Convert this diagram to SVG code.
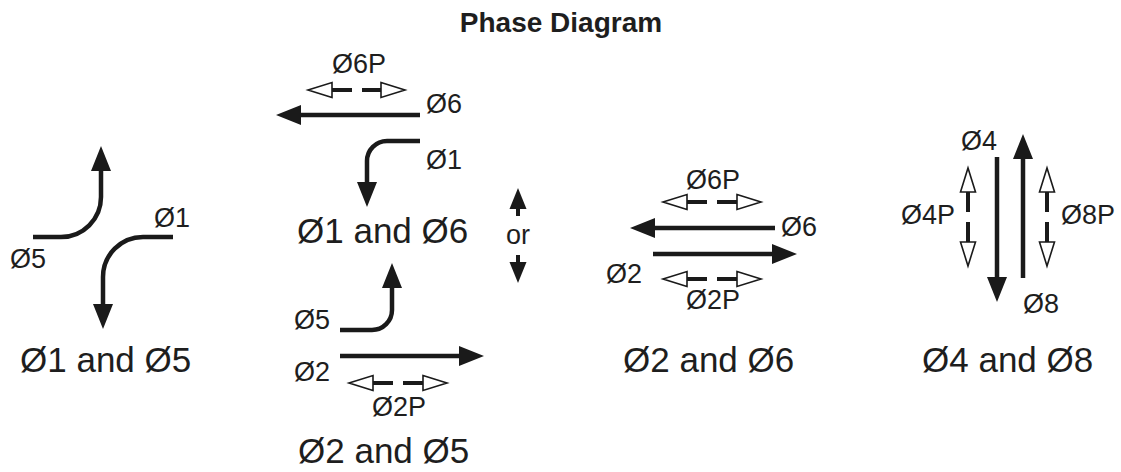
<svg xmlns="http://www.w3.org/2000/svg" width="1121" height="472" viewBox="0 0 1121 472">
<style>
text{font-family:"Liberation Sans",Arial,sans-serif;fill:#1e1e1e}
.t{font-size:28px;font-weight:bold}
.s{font-size:27px}
.b{font-size:35px}
.m{text-anchor:middle}
.ln{fill:none;stroke:#1a1a1a;stroke-width:4.5;marker-end:url(#ah)}
.dl{fill:none;stroke:#1a1a1a;stroke-width:4;stroke-dasharray:20 10;marker-start:url(#oh);marker-end:url(#oh)}
.sm{fill:none;stroke:#1a1a1a;stroke-width:4;marker-end:url(#as)}
</style>
<defs>
<marker id="ah" markerUnits="userSpaceOnUse" markerWidth="30" markerHeight="24" refX="1" refY="0" orient="auto" overflow="visible"><path d="M0,-10 L25,0 L0,10 z" fill="#1a1a1a"/></marker>
<marker id="as" markerUnits="userSpaceOnUse" markerWidth="24" markerHeight="20" refX="1" refY="0" orient="auto" overflow="visible"><path d="M0,-8.5 L21,0 L0,8.5 z" fill="#1a1a1a"/></marker>
<marker id="oh" markerUnits="userSpaceOnUse" markerWidth="30" markerHeight="20" refX="0" refY="0" orient="auto-start-reverse" overflow="visible"><path d="M0,-7.5 L24,0 L0,7.5 z" fill="#fff" stroke="#1a1a1a" stroke-width="1.6" stroke-linejoin="miter"/></marker>
</defs>
<text class="t m" x="561" y="32">Phase Diagram</text>
<g id="connectors">
<path class="ln" d="M33,237 H61 A40,40 0 0 0 101,197 V170"/>
<path class="ln" d="M173,237 H143 A40,40 0 0 0 103,277 V305"/>
<path class="dl" d="M332,90 H381"/>
<path class="ln" d="M420,115 H300"/>
<path class="ln" d="M420,141 H387 A20,20 0 0 0 367,161 V183"/>
<path class="ln" d="M340,330 H372 A20,20 0 0 0 392,310 V287"/>
<path class="ln" d="M340,356 H460"/>
<path class="dl" d="M373,383 H423"/>
<path class="sm" d="M518,216 V208"/>
<path class="sm" d="M518,255 V263"/>
<path class="dl" d="M687,202 H737"/>
<path class="ln" d="M775,228 H654"/>
<path class="ln" d="M653,254 H773"/>
<path class="dl" d="M687,279 H737"/>
<path class="ln" d="M997,157 V278"/>
<path class="ln" d="M1023,278 V158"/>
<path class="dl" d="M968,192 V242"/>
<path class="dl" d="M1047,192 V242"/>
</g>
<g id="node-1-5">
<text class="s" x="154" y="227">Ø1</text>
<text class="s" x="10" y="268">Ø5</text>
<text class="b" x="20" y="372">Ø1 and Ø5</text>
</g>
<g id="node-1-6">
<text class="s m" x="359" y="73">Ø6P</text>
<text class="s" x="426" y="113">Ø6</text>
<text class="s" x="426" y="169">Ø1</text>
<text class="b" x="297" y="243">Ø1 and Ø6</text>
</g>
<g id="node-2-5">
<text class="s" x="294" y="329">Ø5</text>
<text class="s" x="294" y="381">Ø2</text>
<text class="s m" x="399" y="416">Ø2P</text>
<text class="b" x="298" y="463">Ø2 and Ø5</text>
</g>
<g id="node-or">
<text class="s m" x="518" y="244">or</text>
</g>
<g id="node-2-6">
<text class="s m" x="713" y="189">Ø6P</text>
<text class="s" x="781" y="236">Ø6</text>
<text class="s" x="606" y="283">Ø2</text>
<text class="s m" x="713" y="309">Ø2P</text>
<text class="b" x="623" y="372">Ø2 and Ø6</text>
</g>
<g id="node-4-8">
<text class="s" x="961" y="150">Ø4</text>
<text class="s" x="901" y="224">Ø4P</text>
<text class="s" x="1061" y="224">Ø8P</text>
<text class="s" x="1023" y="313">Ø8</text>
<text class="b" x="922" y="372">Ø4 and Ø8</text>
</g>
</svg>
